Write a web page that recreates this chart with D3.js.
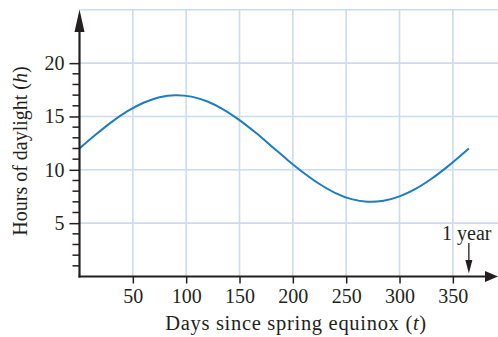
<!DOCTYPE html>
<html>
<head>
<meta charset="utf-8">
<script src="https://cdn.jsdelivr.net/npm/d3@7"></script>
<style>
  html, body { margin: 0; padding: 0; background: #ffffff; }
  svg { display: block; }
</style>
</head>
<body>
<svg id="chart" width="498" height="337"></svg>
<script>
// Hours of daylight over one year, sampled every 15 days
const days  = [0, 15, 30, 45, 60, 75, 90, 105, 120, 135, 150, 165, 180,
               195, 210, 225, 240, 255, 270, 285, 300, 315, 330, 345, 365];
const hours = [12.0, 13.28, 14.47, 15.5, 16.29, 16.81, 17.0, 16.86, 16.4, 15.65, 14.66, 13.49, 12.22,
               10.93, 9.73, 8.67, 7.82, 7.25, 7.01, 7.1, 7.51, 8.21, 9.16, 10.3, 12.0];

const xTicks = [50, 100, 150, 200, 250, 300, 350];
const yTicks = [5, 10, 15, 20];
const yMinor = [1, 2, 3, 4, 6, 7, 8, 9, 11, 12, 13, 14, 16, 17, 18, 19];
const xGrid  = [50, 100, 150, 200, 250, 300, 350, 400];
const yGrid  = [5, 10, 15, 20, 25];
const yearMark = 365;

const W = 498, H = 337;
const FONT = "'Liberation Serif', 'DejaVu Serif', serif";
const svg = d3.select("#chart");

const x = d3.scaleLinear().domain([0, 400]).range([79.5, 506.2]);
const y = d3.scaleLinear().domain([0, 25]).range([276.5, 9.8]);

const gridColor = "#cddbef";
const inkColor = "#231f20";

// grid
const grid = svg.append("g");
grid.selectAll("line.v").data(xGrid).join("line")
  .attr("x1", d => x(d)).attr("x2", d => x(d))
  .attr("y1", y(25)).attr("y2", y(0))
  .attr("stroke", gridColor).attr("stroke-width", 1.6);
grid.selectAll("line.h").data(yGrid).join("line")
  .attr("x1", x(0)).attr("x2", W)
  .attr("y1", d => y(d)).attr("y2", d => y(d))
  .attr("stroke", gridColor).attr("stroke-width", 1.6);

// curve
const line = d3.line()
  .x((d, i) => x(days[i]))
  .y(d => y(d))
  .curve(d3.curveCatmullRom.alpha(0.5));
svg.append("path")
  .datum(hours)
  .attr("d", line)
  .attr("fill", "none")
  .attr("stroke", "#1c7cc6")
  .attr("stroke-width", 2);

// y axis with major ticks
const yAxis = d3.axisLeft(y).tickValues(yTicks).tickSize(10).tickSizeOuter(0).tickPadding(5);
const gy = svg.append("g").attr("transform", `translate(${x(0)},0)`).call(yAxis);
gy.select(".domain").remove();
gy.selectAll(".tick line").attr("stroke", inkColor).attr("stroke-width", 1.5);
gy.selectAll(".tick text")
  .style("font-family", FONT).style("font-size", "20px").attr("fill", inkColor);

// minor y ticks
svg.append("g").selectAll("line").data(yMinor).join("line")
  .attr("x1", x(0) - 7).attr("x2", x(0))
  .attr("y1", d => y(d)).attr("y2", d => y(d))
  .attr("stroke", inkColor).attr("stroke-width", 1.5);

// x axis ticks
const xAxis = d3.axisBottom(x).tickValues(xTicks).tickSize(7).tickSizeOuter(0).tickPadding(5);
const gx = svg.append("g").attr("transform", `translate(0,${y(0)})`).call(xAxis);
gx.select(".domain").remove();
gx.selectAll(".tick line").attr("stroke", inkColor).attr("stroke-width", 1.5);
gx.selectAll(".tick text")
  .style("font-family", FONT).style("font-size", "20px").attr("fill", inkColor);

// axis lines with arrowheads
svg.append("line")
  .attr("x1", x(0)).attr("x2", x(0))
  .attr("y1", y(0) + 1).attr("y2", 30)
  .attr("stroke", inkColor).attr("stroke-width", 2.2);
svg.append("path")
  .attr("d", `M${x(0)},9.5 L${x(0) - 5},32 L${x(0) + 5},32 Z`)
  .attr("fill", inkColor);

svg.append("line")
  .attr("x1", x(0) - 1).attr("x2", 487)
  .attr("y1", y(0)).attr("y2", y(0))
  .attr("stroke", inkColor).attr("stroke-width", 2.2);
svg.append("path")
  .attr("d", `M${W},${y(0)} L485,${y(0) - 5.5} L485,${y(0) + 5.5} Z`)
  .attr("fill", inkColor);

// one-year marker
const xm = x(yearMark);
svg.append("line")
  .attr("x1", xm).attr("x2", xm)
  .attr("y1", 243).attr("y2", 262)
  .attr("stroke", inkColor).attr("stroke-width", 1.3);
svg.append("path")
  .attr("d", `M${xm},${y(0) - 3} L${xm - 3.5},260 L${xm + 3.5},260 Z`)
  .attr("fill", inkColor);
svg.append("text")
  .attr("x", 491.5).attr("y", 240)
  .attr("text-anchor", "end")
  .style("font-family", FONT).style("font-size", "20px")
  .attr("fill", inkColor)
  .text("1 year");

// axis titles
const xt = svg.append("text")
  .attr("x", 296).attr("y", 330)
  .attr("text-anchor", "middle")
  .style("font-family", FONT).style("font-size", "20.5px")
  .style("letter-spacing", "0.7px")
  .attr("fill", inkColor);
xt.append("tspan").text("Days since spring equinox (");
xt.append("tspan").style("font-style", "italic").text("t");
xt.append("tspan").text(")");

const yt = svg.append("text")
  .attr("transform", "translate(27,151) rotate(-90)")
  .attr("text-anchor", "middle")
  .style("font-family", FONT).style("font-size", "20px")
  .attr("fill", inkColor);
yt.append("tspan").text("Hours of daylight (");
yt.append("tspan").style("font-style", "italic").text("h");
yt.append("tspan").text(")");
</script>
</body>
</html>
